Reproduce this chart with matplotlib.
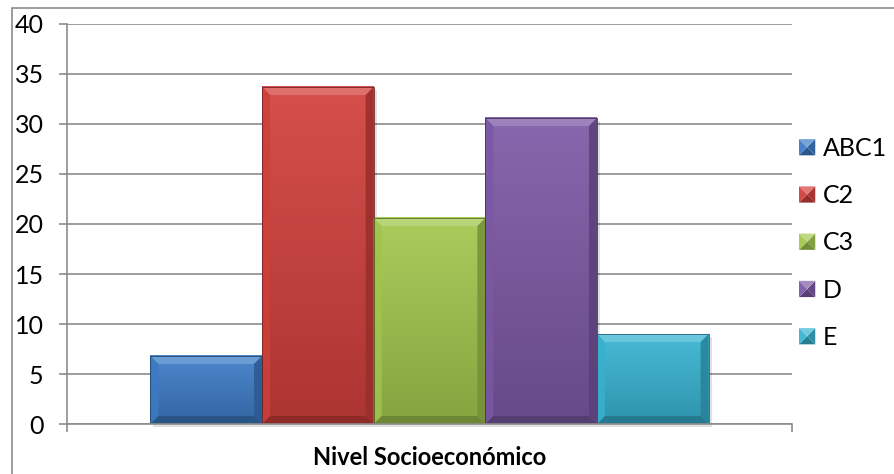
import numpy as np
import matplotlib
matplotlib.use("Agg")
import matplotlib.pyplot as plt
from matplotlib.patches import Rectangle, Polygon
from matplotlib.legend_handler import HandlerBase
from matplotlib.colors import to_rgb

categories = ["ABC1", "C2", "C3", "D", "E"]
values = [6.8, 33.7, 20.6, 30.6, 9.0]
colors = ["#3d7cc7", "#d2403c", "#a3c84e", "#7d5aa6", "#38b4d2"]
group_label = "Nivel Socioeconómico"
yticks = [0, 5, 10, 15, 20, 25, 30, 35, 40]

W, H = 894, 474
GRID = "#8c8c8c"
FONT = "Lato"
FS = 18
BEVEL = 8  # px


def shade(c, f):
    r = np.array(to_rgb(c))
    if f >= 0:
        return tuple(r + (1 - r) * f)
    return tuple(r * (1 + f))


class PyramidHandler(HandlerBase):
    # small square legend key with a pyramid bevel
    def create_artists(self, legend, orig_handle, xdescent, ydescent,
                       width, height, fontsize, trans):
        c = orig_handle.get_facecolor()
        s = min(width, height)
        x0 = -xdescent + (width - s) / 2
        y0 = -ydescent + (height - s) / 2
        m = (x0 + s / 2, y0 + s / 2)
        p = [(x0, y0), (x0 + s, y0), (x0 + s, y0 + s), (x0, y0 + s)]
        faces = [(p[0], p[1], -0.3), (p[1], p[2], -0.2),
                 (p[2], p[3], 0.3), (p[3], p[0], 0.05)]
        arts = []
        for a, b, f in faces:
            arts.append(Polygon([a, b, m], closed=True, facecolor=shade(c, f),
                                edgecolor="none", transform=trans))
        return arts


fig = plt.figure(figsize=(W / 100, H / 100), dpi=100)
ax = fig.add_axes([67 / W, (H - 424) / H, 725 / W, 400 / H])
ax.set_xlim(-0.5, 0.5)
ax.set_ylim(0, 40)

# outer chart border
fig.add_artist(Rectangle((12 / W, -0.1), 1.2, (H - 8) / H + 0.1,
                         transform=fig.transFigure, fill=False,
                         edgecolor=GRID, linewidth=1.2))

# bar geometry in the single category
n = len(values)
span = 0.77
bw = span / n
xs = [-span / 2 + bw * (i + 0.5) for i in range(n)]

ax.set_axisbelow(True)
ax.yaxis.grid(True, color=GRID, linewidth=1.2)
ax.set_yticks(yticks)

px_x = 1 / (ax.transData.transform((1, 0))[0] - ax.transData.transform((0, 0))[0])
px_y = 1 / (ax.transData.transform((0, 1))[1] - ax.transData.transform((0, 0))[1])
bx, by = BEVEL * px_x, BEVEL * px_y

bars = ax.bar(xs, values, width=bw, color=colors, edgecolor="none", zorder=2)
for rect, c in zip(bars, colors):
    x0, w, h = rect.get_x(), rect.get_width(), rect.get_height()
    # soft shadow to the lower right
    ax.add_patch(Rectangle((x0 + 3 * px_x, -3 * px_y), w, h, facecolor="#000000",
                           alpha=0.12, edgecolor="none", zorder=1.5, clip_on=False))
    # vertical gradient body
    grad = np.linspace(0, 1, 64)[:, None, None]
    top, bot = np.array(shade(c, 0.08)), np.array(shade(c, -0.18))
    img = bot + (top - bot) * grad
    ax.imshow(img, extent=(x0, x0 + w, 0, h), origin="lower", aspect="auto",
              zorder=2.1, interpolation="bilinear")
    # bevel edges
    faces = [
        ([(x0, h), (x0 + w, h), (x0 + w - bx, h - by), (x0 + bx, h - by)], 0.28),
        ([(x0, 0), (x0 + w, 0), (x0 + w - bx, by), (x0 + bx, by)], -0.35),
        ([(x0, 0), (x0, h), (x0 + bx, h - by), (x0 + bx, by)], -0.02),
        ([(x0 + w, 0), (x0 + w, h), (x0 + w - bx, h - by), (x0 + w - bx, by)], -0.28),
    ]
    for pts, f in faces:
        ax.add_patch(Polygon(pts, closed=True, facecolor=shade(c, f),
                             edgecolor="none", alpha=0.85, zorder=2.2))
    ax.add_patch(Rectangle((x0, 0), w, h, fill=False, edgecolor=shade(c, -0.45),
                           linewidth=0.6, zorder=2.3))

ax.set_xlim(-0.5, 0.5)
ax.set_ylim(0, 40)

for s in ["top", "right"]:
    ax.spines[s].set_visible(False)
for s in ["left", "bottom"]:
    ax.spines[s].set_color(GRID)
    ax.spines[s].set_linewidth(1.2)

ax.set_xticks([0])
ax.set_xticklabels([group_label], fontweight="bold", fontsize=17, family=FONT)
ax.set_xticks([-0.5, 0.5], minor=True)
ax.tick_params(axis="x", which="major", length=0, pad=16)
ax.tick_params(axis="x", which="minor", length=5.8, width=1.2, color=GRID)
ax.tick_params(axis="y", length=5.8, width=1.2, color=GRID, pad=11,
               labelsize=FS)
for t in ax.get_yticklabels():
    t.set_family(FONT)

handles = [Rectangle((0, 0), 1, 1, facecolor=c) for c in colors]
leg = fig.legend(handles, categories, loc="center left",
                 bbox_to_anchor=(799 / W, 1 - 243 / H),
                 handler_map={Rectangle: PyramidHandler()},
                 frameon=False, prop={"family": FONT, "size": FS},
                 handlelength=0.65, handleheight=0.65, handletextpad=0.3,
                 labelspacing=0.97, borderpad=0, borderaxespad=0)

fig.savefig("out.png", dpi=100)
